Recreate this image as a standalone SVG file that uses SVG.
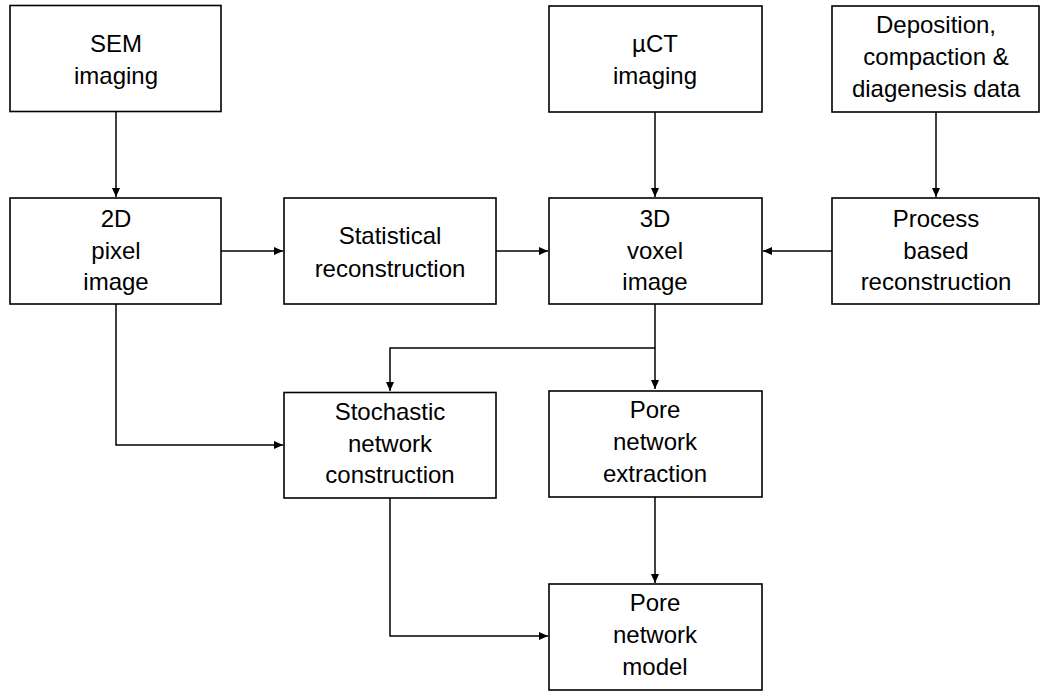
<svg xmlns="http://www.w3.org/2000/svg" width="1041" height="691" viewBox="0 0 1041 691">
<style>
.box{fill:#fff;stroke:#000;stroke-width:1.6}
.t{font-family:"Liberation Sans",Arial,sans-serif;font-size:24px;fill:#000;text-anchor:middle}
.c{fill:none;stroke:#000;stroke-width:1.5}
</style>
<defs>
<marker id="ah" markerWidth="10" markerHeight="8" refX="9" refY="4" orient="auto" markerUnits="userSpaceOnUse">
<path d="M0,0 L9,4 L0,8 Z" fill="#000"/>
</marker>
</defs>
<rect width="1041" height="691" fill="#fff"/>
<g id="connectors">
<path class="c" d="M116,112 V197" marker-end="url(#ah)"/>
<path class="c" d="M655,112 V197" marker-end="url(#ah)"/>
<path class="c" d="M936,112 V197" marker-end="url(#ah)"/>
<path class="c" d="M221,251 H283" marker-end="url(#ah)"/>
<path class="c" d="M496,251 H548" marker-end="url(#ah)"/>
<path class="c" d="M832,251 H763" marker-end="url(#ah)"/>
<path class="c" d="M116,304 V445 H283" marker-end="url(#ah)"/>
<path class="c" d="M655,304 V389" marker-end="url(#ah)"/>
<path class="c" d="M655,348 H390 V391" marker-end="url(#ah)"/>
<path class="c" d="M390,498 V636 H548" marker-end="url(#ah)"/>
<path class="c" d="M655,497 V583" marker-end="url(#ah)"/>
</g>
<g id="sem"><rect class="box" x="10" y="5.5" width="211" height="106"/>
<text class="t" x="116" y="52">SEM</text><text class="t" x="116" y="84">imaging</text></g>
<g id="uct"><rect class="box" x="549" y="6" width="213" height="106"/>
<text class="t" x="655" y="52">µCT</text><text class="t" x="655" y="84">imaging</text></g>
<g id="deposition"><rect class="box" x="832" y="6" width="207" height="106"/>
<text class="t" x="936" y="33">Deposition,</text><text class="t" x="936" y="65">compaction &amp;</text><text class="t" x="936" y="97">diagenesis data</text></g>
<g id="pixel"><rect class="box" x="10" y="198" width="211" height="106"/>
<text class="t" x="116" y="227">2D</text><text class="t" x="116" y="259">pixel</text><text class="t" x="116" y="290">image</text></g>
<g id="statistical"><rect class="box" x="284" y="198" width="212" height="106"/>
<text class="t" x="390" y="244">Statistical</text><text class="t" x="390" y="277">reconstruction</text></g>
<g id="voxel"><rect class="box" x="549" y="198" width="213" height="106"/>
<text class="t" x="655" y="227">3D</text><text class="t" x="655" y="259">voxel</text><text class="t" x="655" y="290">image</text></g>
<g id="process"><rect class="box" x="832" y="198" width="207" height="106"/>
<text class="t" x="936" y="227">Process</text><text class="t" x="936" y="259">based</text><text class="t" x="936" y="290">reconstruction</text></g>
<g id="stochastic"><rect class="box" x="284" y="392.5" width="212" height="105.5"/>
<text class="t" x="390" y="420">Stochastic</text><text class="t" x="390" y="452">network</text><text class="t" x="390" y="483">construction</text></g>
<g id="extraction"><rect class="box" x="549" y="391" width="213" height="106"/>
<text class="t" x="655" y="418">Pore</text><text class="t" x="655" y="450">network</text><text class="t" x="655" y="482">extraction</text></g>
<g id="model"><rect class="box" x="549" y="584" width="213" height="106"/>
<text class="t" x="655" y="611">Pore</text><text class="t" x="655" y="643">network</text><text class="t" x="655" y="675">model</text></g>
</svg>
